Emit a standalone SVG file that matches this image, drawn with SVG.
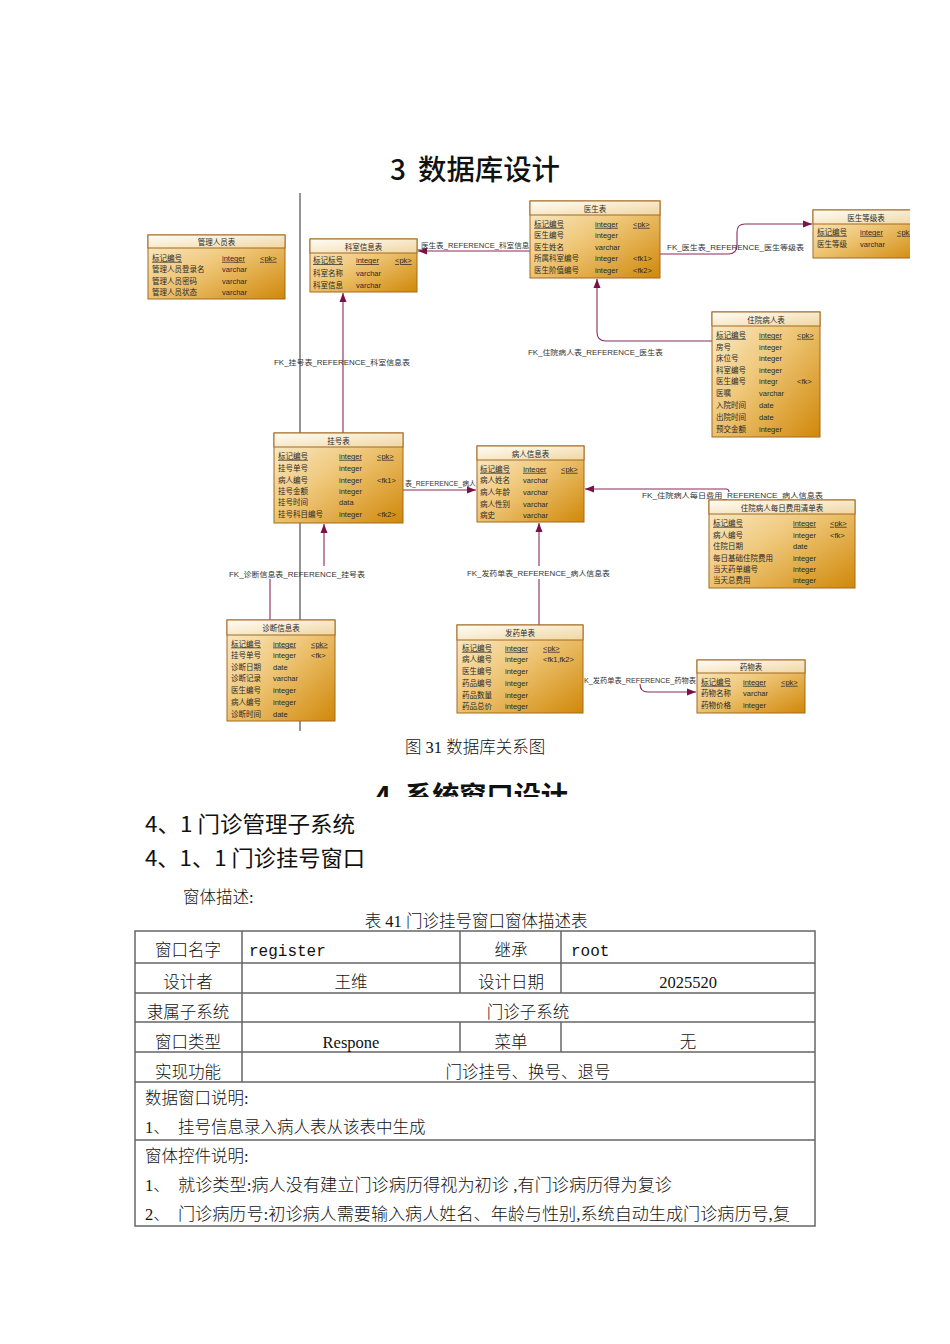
<svg xmlns="http://www.w3.org/2000/svg" width="950" height="1344" viewBox="0 0 950 1344">
<style>
.body{fill:url(#gb);stroke:#a36a20;stroke-width:1}
.head{fill:url(#gh);stroke:#a36a20;stroke-width:1}
.th{font-family:"Noto Sans CJK SC",sans-serif;font-size:7.5px;fill:#2a2a2a;text-anchor:middle}
.td{font-family:"Liberation Sans","Noto Sans CJK SC",sans-serif;font-size:7.5px;fill:#2a2a2a}
.u{text-decoration:underline}
.cn{fill:none;stroke:#8a2a5c;stroke-width:1.1}
.lbl{font-family:"Liberation Sans","Noto Sans CJK SC",sans-serif;font-size:7px;fill:#333}
.doc{font-family:"Liberation Serif","Noto Sans CJK SC",serif;font-size:16.5px;fill:#111;font-weight:300}
.mid{text-anchor:middle}
.mono{font-family:"Liberation Mono","Noto Sans CJK SC",monospace;font-size:16px;fill:#111}
.hd{font-family:"Noto Sans CJK SC",sans-serif;fill:#111}
.tb{fill:none;stroke:#666;stroke-width:1.5}
</style>
<defs>
<linearGradient id="gb" x1="0" y1="0" x2="1" y2="1">
<stop offset="0" stop-color="#fbeed0"/>
<stop offset="0.45" stop-color="#efc779"/>
<stop offset="1" stop-color="#d08809"/>
</linearGradient>
<linearGradient id="gh" x1="0" y1="0" x2="1" y2="1">
<stop offset="0" stop-color="#fffdf6"/>
<stop offset="1" stop-color="#f0d6a2"/>
</linearGradient>
<marker id="arr" markerUnits="userSpaceOnUse" markerWidth="10" markerHeight="8" refX="9" refY="4" orient="auto">
<path d="M0,0.5 L9,4 L0,7.5 z" fill="#7a1148"/>
</marker>
<clipPath id="clipdiag"><rect x="0" y="0" width="910" height="1344"/></clipPath>
<clipPath id="cliph4"><rect x="0" y="770" width="950" height="27"/></clipPath>
</defs>
<rect width="950" height="1344" fill="#fff"/>

<text class="hd" y="180" font-size="28" font-weight="500"><tspan x="390">3</tspan><tspan x="418" textLength="142" lengthAdjust="spacingAndGlyphs">数据库设计</tspan></text>

<g id="diagram" clip-path="url(#clipdiag)">
<line x1="300" y1="193" x2="300" y2="731" stroke="#7a7a7a" stroke-width="1.6"/>

<g id="connectors">
<path class="cn" d="M530,251 H418" marker-end="url(#arr)"/>
<path class="cn" d="M660,254 H728 Q737,254 737,245 V232 Q737,224 745,224 H812" marker-end="url(#arr)"/>
<path class="cn" d="M712,341 H606 Q597,341 597,332 V279" marker-end="url(#arr)"/>
<path class="cn" d="M343,433 V293" marker-end="url(#arr)"/>
<path class="cn" d="M403,490 H476" marker-end="url(#arr)"/>
<path class="cn" d="M729,492 Q729,489 726,489 H585" marker-end="url(#arr)"/>
<path class="cn" d="M270,620 V579"/>
<path class="cn" d="M324,566 V524" marker-end="url(#arr)"/>
<path class="cn" d="M539,625 V579"/>
<path class="cn" d="M539,566 V523" marker-end="url(#arr)"/>
<path class="cn" d="M640,684 Q640,692 648,692 H696" marker-end="url(#arr)"/>
</g>

<g id="labels">
<text class="lbl" x="407" y="248" textLength="130" lengthAdjust="spacingAndGlyphs">FK_医生表_REFERENCE_科室信息表</text>
<text class="lbl" x="667" y="250" textLength="137" lengthAdjust="spacingAndGlyphs">FK_医生表_REFERENCE_医生等级表</text>
<text class="lbl" x="528" y="355" textLength="135" lengthAdjust="spacingAndGlyphs">FK_住院病人表_REFERENCE_医生表</text>
<text class="lbl" x="274" y="365" textLength="136" lengthAdjust="spacingAndGlyphs">FK_挂号表_REFERENCE_科室信息表</text>
<text class="lbl" x="405" y="486" textLength="71" lengthAdjust="spacingAndGlyphs">表_REFERENCE_病人</text>
<text class="lbl" x="642" y="498" textLength="181" lengthAdjust="spacingAndGlyphs">FK_住院病人每日费用_REFERENCE_病人信息表</text>
<text class="lbl" x="229" y="577" textLength="136" lengthAdjust="spacingAndGlyphs">FK_诊断信息表_REFERENCE_挂号表</text>
<text class="lbl" x="467" y="576" textLength="143" lengthAdjust="spacingAndGlyphs">FK_发药单表_REFERENCE_病人信息表</text>
<text class="lbl" x="584" y="683" textLength="112" lengthAdjust="spacingAndGlyphs">K_发药单表_REFERENCE_药物表</text>
</g>

<g id="t-admin">
<rect class="body" x="148" y="235" width="137" height="64"/>
<rect class="head" x="148" y="235" width="137" height="13"/>
<text class="th" x="216.5" y="245">管理人员表</text>
<text class="td"><tspan class="u" x="152" y="260.8">标记编号</tspan><tspan class="u" x="222" y="260.8">integer</tspan><tspan class="u" x="260" y="260.8">&lt;pk&gt;</tspan></text>
<text class="td"><tspan x="152" y="272.3">管理人员登录名</tspan><tspan x="222" y="272.3">varchar</tspan></text>
<text class="td"><tspan x="152" y="283.8">管理人员密码</tspan><tspan x="222" y="283.8">varchar</tspan></text>
<text class="td"><tspan x="152" y="295.3">管理人员状态</tspan><tspan x="222" y="295.3">varchar</tspan></text>
</g>

<g id="t-dept">
<rect class="body" x="310" y="239" width="107" height="53"/>
<rect class="head" x="310" y="239" width="107" height="14"/>
<text class="th" x="363.5" y="249.5">科室信息表</text>
<text class="td"><tspan class="u" x="313" y="263">标记标号</tspan><tspan class="u" x="356" y="263">integer</tspan><tspan class="u" x="395" y="263">&lt;pk&gt;</tspan></text>
<text class="td"><tspan x="313" y="275.5">科室名称</tspan><tspan x="356" y="275.5">varchar</tspan></text>
<text class="td"><tspan x="313" y="287.5">科室信息</tspan><tspan x="356" y="287.5">varchar</tspan></text>
</g>

<g id="t-doctor">
<rect class="body" x="530" y="201" width="130" height="77"/>
<rect class="head" x="530" y="201" width="130" height="14"/>
<text class="th" x="595" y="211.5">医生表</text>
<text class="td"><tspan class="u" x="534" y="226.8">标记编号</tspan><tspan class="u" x="595" y="226.8">integer</tspan><tspan class="u" x="633" y="226.8">&lt;pk&gt;</tspan></text>
<text class="td"><tspan x="534" y="238">医生编号</tspan><tspan x="595" y="238">integer</tspan></text>
<text class="td"><tspan x="534" y="249.5">医生姓名</tspan><tspan x="595" y="249.5">varchar</tspan></text>
<text class="td"><tspan x="534" y="261">所属科室编号</tspan><tspan x="595" y="261">integer</tspan><tspan x="633" y="261">&lt;fk1&gt;</tspan></text>
<text class="td"><tspan x="534" y="272.5">医生阶值编号</tspan><tspan x="595" y="272.5">integer</tspan><tspan x="633" y="272.5">&lt;fk2&gt;</tspan></text>
</g>

<g id="t-level">
<rect class="body" x="813" y="210" width="110" height="48"/>
<rect class="head" x="813" y="210" width="110" height="14"/>
<text class="th" x="866" y="220.5">医生等级表</text>
<text class="td"><tspan class="u" x="817" y="234.8">标记编号</tspan><tspan class="u" x="860" y="234.8">integer</tspan><tspan class="u" x="897" y="234.8">&lt;pk&gt;</tspan></text>
<text class="td"><tspan x="817" y="246.5">医生等级</tspan><tspan x="860" y="246.5">varchar</tspan></text>
</g>

<g id="t-inpatient">
<rect class="body" x="712" y="312" width="108" height="125"/>
<rect class="head" x="712" y="312" width="108" height="14"/>
<text class="th" x="766" y="322.5">住院病人表</text>
<text class="td"><tspan class="u" x="716" y="337.8">标记编号</tspan><tspan class="u" x="759" y="337.8">integer</tspan><tspan class="u" x="797" y="337.8">&lt;pk&gt;</tspan></text>
<text class="td"><tspan x="716" y="349.5">房号</tspan><tspan x="759" y="349.5">integer</tspan></text>
<text class="td"><tspan x="716" y="361">床位号</tspan><tspan x="759" y="361">integer</tspan></text>
<text class="td"><tspan x="716" y="372.5">科室编号</tspan><tspan x="759" y="372.5">integer</tspan></text>
<text class="td"><tspan x="716" y="384">医生编号</tspan><tspan x="759" y="384">integr</tspan><tspan x="797" y="384">&lt;fk&gt;</tspan></text>
<text class="td"><tspan x="716" y="395.5">医嘱</tspan><tspan x="759" y="395.5">varchar</tspan></text>
<text class="td"><tspan x="716" y="407.5">入院时间</tspan><tspan x="759" y="407.5">date</tspan></text>
<text class="td"><tspan x="716" y="419.5">出院时间</tspan><tspan x="759" y="419.5">date</tspan></text>
<text class="td"><tspan x="716" y="431.5">预交金额</tspan><tspan x="759" y="431.5">integer</tspan></text>
</g>

<g id="t-register">
<rect class="body" x="274" y="433" width="129" height="90"/>
<rect class="head" x="274" y="433" width="129" height="14"/>
<text class="th" x="338.5" y="443.5">挂号表</text>
<text class="td"><tspan class="u" x="278" y="458.8">标记编号</tspan><tspan class="u" x="339" y="458.8">integer</tspan><tspan class="u" x="377" y="458.8">&lt;pk&gt;</tspan></text>
<text class="td"><tspan x="278" y="470.5">挂号单号</tspan><tspan x="339" y="470.5">integer</tspan></text>
<text class="td"><tspan x="278" y="482.5">病人编号</tspan><tspan x="339" y="482.5">integer</tspan><tspan x="377" y="482.5">&lt;fk1&gt;</tspan></text>
<text class="td"><tspan x="278" y="494">挂号金额</tspan><tspan x="339" y="494">integer</tspan></text>
<text class="td"><tspan x="278" y="505">挂号时间</tspan><tspan x="339" y="505">data</tspan></text>
<text class="td"><tspan x="278" y="516.8">挂号科目编号</tspan><tspan x="339" y="516.8">integer</tspan><tspan x="377" y="516.8">&lt;fk2&gt;</tspan></text>
</g>

<g id="t-patient">
<rect class="body" x="477" y="446" width="107" height="76"/>
<rect class="head" x="477" y="446" width="107" height="14"/>
<text class="th" x="530.5" y="456.5">病人信息表</text>
<text class="td"><tspan class="u" x="480" y="471.8">标记编号</tspan><tspan class="u" x="523" y="471.8">Integer</tspan><tspan class="u" x="561" y="471.8">&lt;pk&gt;</tspan></text>
<text class="td"><tspan x="480" y="483">病人姓名</tspan><tspan x="523" y="483">varchar</tspan></text>
<text class="td"><tspan x="480" y="494.8">病人年龄</tspan><tspan x="523" y="494.8">varchar</tspan></text>
<text class="td"><tspan x="480" y="506.5">病人性别</tspan><tspan x="523" y="506.5">varchar</tspan></text>
<text class="td"><tspan x="480" y="518.3">病史</tspan><tspan x="523" y="518.3">varchar</tspan></text>
</g>

<g id="t-dailycost">
<rect class="body" x="709" y="500" width="146" height="88"/>
<rect class="head" x="709" y="500" width="146" height="14"/>
<text class="th" x="782" y="510.5">住院病人每日费用清单表</text>
<text class="td"><tspan class="u" x="713" y="525.8">标记编号</tspan><tspan class="u" x="793" y="525.8">integer</tspan><tspan class="u" x="830" y="525.8">&lt;pk&gt;</tspan></text>
<text class="td"><tspan x="713" y="537.5">病人编号</tspan><tspan x="793" y="537.5">integer</tspan><tspan x="830" y="537.5">&lt;fk&gt;</tspan></text>
<text class="td"><tspan x="713" y="549">住院日期</tspan><tspan x="793" y="549">date</tspan></text>
<text class="td"><tspan x="713" y="560.5">每日基础住院费用</tspan><tspan x="793" y="560.5">integer</tspan></text>
<text class="td"><tspan x="713" y="572">当天药单编号</tspan><tspan x="793" y="572">integer</tspan></text>
<text class="td"><tspan x="713" y="583">当天总费用</tspan><tspan x="793" y="583">integer</tspan></text>
</g>

<g id="t-diagnosis">
<rect class="body" x="227" y="620" width="108" height="101"/>
<rect class="head" x="227" y="620" width="108" height="15"/>
<text class="th" x="281" y="631">诊断信息表</text>
<text class="td"><tspan class="u" x="231" y="646.5">标记编号</tspan><tspan class="u" x="273" y="646.5">integer</tspan><tspan class="u" x="311" y="646.5">&lt;pk&gt;</tspan></text>
<text class="td"><tspan x="231" y="658">挂号单号</tspan><tspan x="273" y="658">integer</tspan><tspan x="311" y="658">&lt;fk&gt;</tspan></text>
<text class="td"><tspan x="231" y="669.5">诊断日期</tspan><tspan x="273" y="669.5">date</tspan></text>
<text class="td"><tspan x="231" y="681">诊断记录</tspan><tspan x="273" y="681">varchar</tspan></text>
<text class="td"><tspan x="231" y="692.5">医生编号</tspan><tspan x="273" y="692.5">integer</tspan></text>
<text class="td"><tspan x="231" y="704.5">病人编号</tspan><tspan x="273" y="704.5">integer</tspan></text>
<text class="td"><tspan x="231" y="716.5">诊断时间</tspan><tspan x="273" y="716.5">date</tspan></text>
</g>

<g id="t-dispense">
<rect class="body" x="457" y="625" width="126" height="88"/>
<rect class="head" x="457" y="625" width="126" height="15"/>
<text class="th" x="520" y="636">发药单表</text>
<text class="td"><tspan class="u" x="462" y="650.8">标记编号</tspan><tspan class="u" x="505" y="650.8">integer</tspan><tspan class="u" x="543" y="650.8">&lt;pk&gt;</tspan></text>
<text class="td"><tspan x="462" y="662.3">病人编号</tspan><tspan x="505" y="662.3">integer</tspan><tspan x="543" y="662.3">&lt;fk1,fk2&gt;</tspan></text>
<text class="td"><tspan x="462" y="673.8">医生编号</tspan><tspan x="505" y="673.8">integer</tspan></text>
<text class="td"><tspan x="462" y="685.8">药品编号</tspan><tspan x="505" y="685.8">integer</tspan></text>
<text class="td"><tspan x="462" y="697.5">药品数量</tspan><tspan x="505" y="697.5">integer</tspan></text>
<text class="td"><tspan x="462" y="708.8">药品总价</tspan><tspan x="505" y="708.8">integer</tspan></text>
</g>

<g id="t-drug">
<rect class="body" x="697" y="660" width="108" height="53"/>
<rect class="head" x="697" y="660" width="108" height="13"/>
<text class="th" x="751" y="670">药物表</text>
<text class="td"><tspan class="u" x="701" y="684.8">标记编号</tspan><tspan class="u" x="743" y="684.8">integer</tspan><tspan class="u" x="781" y="684.8">&lt;pk&gt;</tspan></text>
<text class="td"><tspan x="701" y="696">药物名称</tspan><tspan x="743" y="696">varchar</tspan></text>
<text class="td"><tspan x="701" y="707.8">药物价格</tspan><tspan x="743" y="707.8">integer</tspan></text>
</g>
</g>

<text class="doc mid" x="475" y="753" font-size="15" fill="#444">图 31 数据库关系图</text>
<g clip-path="url(#cliph4)">
<text class="hd" y="806" font-size="27" font-weight="700"><tspan x="375">4</tspan><tspan x="405" textLength="163" lengthAdjust="spacingAndGlyphs">系统窗口设计</tspan></text>
</g>
<text class="hd" x="145" y="832" font-size="21.5" textLength="210" lengthAdjust="spacingAndGlyphs">4、1 门诊管理子系统</text>
<text class="hd" x="145" y="866" font-size="21.5" textLength="220" lengthAdjust="spacingAndGlyphs">4、1、1 门诊挂号窗口</text>
<text class="doc" x="183" y="903" font-size="17">窗体描述:</text>
<text class="doc mid" x="476" y="927" font-size="16">表 41 门诊挂号窗口窗体描述表</text>

<g id="table">
<rect class="tb" x="135" y="931" width="680" height="295"/>
<path class="tb" d="M135,963 H815 M135,993 H815 M135,1022 H815 M135,1052 H815 M135,1082 H815 M135,1140 H815 M242,931 V1082 M460,931 V993 M561,931 V993 M460,1022 V1052 M561,1022 V1052"/>
<text class="doc mid" x="188" y="956">窗口名字</text>
<text class="mono" x="249" y="956">register</text>
<text class="doc mid" x="511" y="956">继承</text>
<text class="mono" x="571" y="956">root</text>
<text class="doc mid" x="188" y="988">设计者</text>
<text class="doc mid" x="351" y="988">王维</text>
<text class="doc mid" x="511" y="988">设计日期</text>
<text class="doc mid" x="688" y="988">2025520</text>
<text class="doc mid" x="188" y="1018">隶属子系统</text>
<text class="doc mid" x="528" y="1018">门诊子系统</text>
<text class="doc mid" x="188" y="1048">窗口类型</text>
<text class="doc mid" x="351" y="1048">Respone</text>
<text class="doc mid" x="511" y="1048">菜单</text>
<text class="doc mid" x="688" y="1048">无</text>
<text class="doc mid" x="188" y="1078">实现功能</text>
<text class="doc mid" x="528" y="1078">门诊挂号、换号、退号</text>
<text class="doc" x="145" y="1104">数据窗口说明:</text>
<text class="doc"><tspan x="145" y="1133">1、</tspan><tspan x="178" y="1133">挂号信息录入病人表从该表中生成</tspan></text>
<text class="doc" x="145" y="1162">窗体控件说明:</text>
<text class="doc"><tspan x="145" y="1191">1、</tspan><tspan x="178" y="1191" textLength="494" lengthAdjust="spacingAndGlyphs">就诊类型:病人没有建立门诊病历得视为初诊 ,有门诊病历得为复诊</tspan></text>
<text class="doc"><tspan x="145" y="1220">2、</tspan><tspan x="178" y="1220" textLength="612" lengthAdjust="spacingAndGlyphs">门诊病历号:初诊病人需要输入病人姓名、年龄与性别,系统自动生成门诊病历号,复</tspan></text>
</g>
</svg>
